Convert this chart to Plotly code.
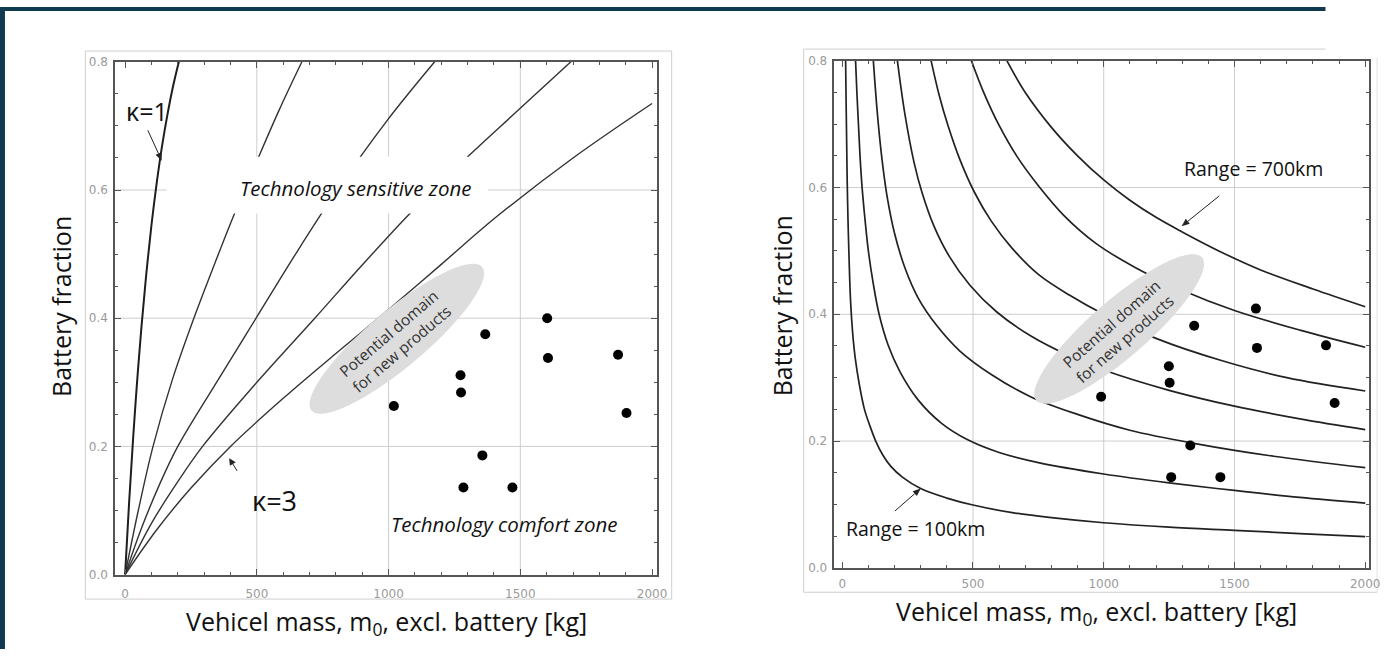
import numpy as np
import plotly.graph_objects as go

W, H = 1399, 656

# ---------------- Left chart data (kappa curves) ----------------
K1_X = [0, 15, 30, 45, 62, 80, 100, 120, 140, 160, 180, 204]
K1_Y = [0, 0.111, 0.21, 0.298, 0.386, 0.467, 0.545, 0.611, 0.668, 0.716, 0.758, 0.80]
K2_X = [0, 50, 106, 180, 261, 340, 415, 500, 585, 671]
K2_Y = [0, 0.10, 0.20, 0.305, 0.40, 0.485, 0.563, 0.645, 0.725, 0.80]
K3_X = [0, 60, 130, 200, 350, 500, 650, 800, 990, 1175]
K3_Y = [0, 0.07, 0.14, 0.20, 0.302, 0.402, 0.502, 0.597, 0.706, 0.80]
K4_X = [0, 100, 200, 294, 500, 720, 900, 1080, 1262, 1480, 1692]
K4_Y = [0, 0.08, 0.145, 0.20, 0.30, 0.40, 0.483, 0.563, 0.637, 0.72, 0.80]
K5_X = [0, 120, 250, 400, 600, 800, 990, 1200, 1406, 1700, 2000]
K5_Y = [0, 0.07, 0.135, 0.20, 0.275, 0.345, 0.41, 0.484, 0.557, 0.65, 0.735]

LEFT_DOTS_X = [1020, 1273, 1275, 1367, 1602, 1605, 1871, 1903, 1356, 1284, 1470]
LEFT_DOTS_Y = [0.263, 0.311, 0.284, 0.375, 0.400, 0.338, 0.343, 0.252, 0.186, 0.136, 0.136]

# ---------------- Right chart data (range curves) ----------------
R100_X = [13, 15, 17, 19, 22, 26, 32, 40, 50, 65, 85, 105, 128, 155, 186, 230, 300, 400, 500, 650, 800, 1000, 1250, 1500, 1750, 2000]
R100_Y = [0.80, 0.73, 0.67, 0.61, 0.55, 0.49, 0.42, 0.37, 0.33, 0.29, 0.25, 0.225, 0.20, 0.178, 0.16, 0.143, 0.125, 0.11,
          0.099, 0.087, 0.079, 0.071, 0.064, 0.059, 0.054, 0.049]
R200_X = [51, 56, 62, 68, 76, 87, 100, 118, 141, 175, 220, 290, 380, 480, 600, 750, 1000, 1250, 1500, 1750, 2000]
R200_Y = [0.80, 0.75, 0.70, 0.65, 0.60, 0.55, 0.50, 0.45, 0.40, 0.352, 0.31, 0.265, 0.228, 0.202, 0.182, 0.166, 0.148,
          0.134, 0.122, 0.111, 0.102]
R300_X = [119, 135, 152, 172, 200, 240, 290, 360, 450, 570, 720, 900, 1100, 1350, 1650, 2000]
R300_Y = [0.80, 0.714, 0.645, 0.585, 0.528, 0.473, 0.426, 0.383, 0.342, 0.305, 0.27, 0.242, 0.217, 0.196, 0.176, 0.158]
R400_X = [211, 240, 275, 306, 350, 410, 490, 590, 720, 870, 1000, 1250, 1500, 1750, 2000]
R400_Y = [0.80, 0.715, 0.639, 0.591, 0.540, 0.491, 0.445, 0.404, 0.366, 0.334, 0.312, 0.280, 0.255, 0.235, 0.218]
R500_X = [340, 370, 405, 450, 505, 570, 650, 750, 870, 1000, 1200, 1450, 1700, 2000]
R500_Y = [0.80, 0.747, 0.697, 0.644, 0.593, 0.547, 0.504, 0.463, 0.430, 0.400, 0.362, 0.327, 0.300, 0.279]
R600_X = [494, 540, 600, 670, 750, 850, 970, 1120, 1300, 1500, 1750, 2000]
R600_Y = [0.80, 0.751, 0.698, 0.648, 0.603, 0.555, 0.512, 0.474, 0.438, 0.406, 0.375, 0.348]
R700_X = [630, 700, 800, 900, 1000, 1100, 1200, 1300, 1450, 1600, 1800, 2000]
R700_Y = [0.80, 0.75, 0.695, 0.65, 0.612, 0.58, 0.553, 0.53, 0.498, 0.47, 0.44, 0.412]

RIGHT_DOTS_X = [990, 1249, 1252, 1346, 1582, 1586, 1850, 1883, 1331, 1258, 1446]
RIGHT_DOTS_Y = [0.270, 0.318, 0.292, 0.382, 0.409, 0.347, 0.351, 0.260, 0.193, 0.143, 0.143]

X_TICKS = [0, 500, 1000, 1500, 2000]
X_TICKTEXT = ["0", "500", "1000", "1500", "2000"]
Y_TICKS = [0.0, 0.2, 0.4, 0.6, 0.8]
Y_TICKTEXT = ["0.0", "0.2", "0.4", "0.6", "0.8"]
GRID_X = [500, 1000, 1500]
GRID_Y = [0.2, 0.4, 0.6]

FONT = "Open Sans"


def P(px, py):
    return px / W, 1 - py / H


fig = go.Figure()

left_curves = [(K2_X, K2_Y), (K3_X, K3_Y), (K4_X, K4_Y), (K5_X, K5_Y)]
for xs, ys in left_curves:
    fig.add_trace(go.Scatter(x=xs, y=ys, mode="lines", line=dict(color="#333", width=1.4, shape="spline", smoothing=1.0),
                             xaxis="x", yaxis="y", hoverinfo="skip"))
fig.add_trace(go.Scatter(x=K1_X, y=K1_Y, mode="lines", line=dict(color="#1e1e1e", width=2.0, shape="spline", smoothing=1.0),
                         xaxis="x", yaxis="y", hoverinfo="skip"))
fig.add_trace(go.Scatter(x=LEFT_DOTS_X, y=LEFT_DOTS_Y, mode="markers", marker=dict(color="black", size=10),
                         xaxis="x", yaxis="y"))

right_curves = [(R100_X, R100_Y), (R200_X, R200_Y), (R300_X, R300_Y), (R400_X, R400_Y),
                (R500_X, R500_Y), (R600_X, R600_Y), (R700_X, R700_Y)]
for xs, ys in right_curves:
    fig.add_trace(go.Scatter(x=xs, y=ys, mode="lines", line=dict(color="#222", width=1.7, shape="spline", smoothing=1.0),
                             xaxis="x2", yaxis="y2", hoverinfo="skip"))
fig.add_trace(go.Scatter(x=RIGHT_DOTS_X, y=RIGHT_DOTS_Y, mode="markers", marker=dict(color="black", size=10),
                         xaxis="x2", yaxis="y2"))


def axis_common(standoff):
    return dict(showline=True, linecolor="#555", linewidth=1.5, mirror="ticks", ticks="inside", ticklen=6,
                tickcolor="#555", tickwidth=1, showgrid=False, zeroline=False, ticklabelstandoff=standoff,
                tickfont=dict(family="DejaVu Sans", size=12, color="#9a9a9a"))


xa = axis_common(7)
xa.update(domain=[116 / W, 662 / W], range=[-38, 2018], anchor="y", tickmode="array", tickvals=X_TICKS,
          ticktext=X_TICKTEXT, minor=dict(ticks="inside", ticklen=3, tickcolor="#555", tickmode="linear", tick0=0, dtick=100))
ya = axis_common(3)
ya.update(domain=[1 - 580 / H, 1 - 56 / H], range=[0, 0.8], anchor="x", tickmode="array", tickvals=Y_TICKS,
          ticktext=Y_TICKTEXT, minor=dict(ticks="inside", ticklen=3, tickcolor="#555", tickmode="linear", tick0=0, dtick=0.05))
xa2 = axis_common(4)
xa2.update(domain=[841 / W, 1380 / W], range=[-30, 2015], anchor="y2", tickmode="array", tickvals=X_TICKS,
           ticktext=X_TICKTEXT, minor=dict(ticks="inside", ticklen=3, tickcolor="#555", tickmode="linear", tick0=0, dtick=100))
ya2 = axis_common(3)
ya2.update(domain=[1 - 573 / H, 1 - 55 / H], range=[0, 0.8], anchor="x2", tickmode="array", tickvals=Y_TICKS,
           ticktext=Y_TICKTEXT, minor=dict(ticks="inside", ticklen=3, tickcolor="#555", tickmode="linear", tick0=0, dtick=0.05))

shapes = []
# gridlines
for xr, yr in (("x", "y"), ("x2", "y2")):
    for g in GRID_X:
        shapes.append(dict(type="line", xref=xr, yref=yr + " domain", x0=g, x1=g, y0=0, y1=1,
                           line=dict(color="#cdcdcd", width=1), layer="below"))
    for g in GRID_Y:
        shapes.append(dict(type="line", xref=xr + " domain", yref=yr, x0=0, x1=1, y0=g, y1=g,
                           line=dict(color="#cdcdcd", width=1), layer="below"))


def pline(x0, y0, x1, y1, color, width, layer="below"):
    a = P(x0, y0)
    b = P(x1, y1)
    return dict(type="line", xref="paper", yref="paper", x0=a[0], y0=a[1], x1=b[0], y1=b[1],
                line=dict(color=color, width=width), layer=layer)


def prect(x0, y0, x1, y1, fill, line=None, layer="below"):
    a = P(x0, y0)
    b = P(x1, y1)
    return dict(type="rect", xref="paper", yref="paper", x0=a[0], y0=b[1], x1=b[0], y1=a[1],
                fillcolor=fill, line=dict(width=0) if line is None else line, layer=layer)


def ppath(points, fill):
    pts = [P(x, y) for x, y in points]
    path = "M " + " L ".join(f"{px:.5f},{py:.5f}" for px, py in pts) + " Z"
    return dict(type="path", xref="paper", yref="paper", path=path, fillcolor=fill,
                line=dict(width=0), layer="above")


def ellipse(cx, cy, a, b, ang_deg, fill):
    t = np.linspace(0, 2 * np.pi, 73)
    th = np.radians(ang_deg)
    xs = cx + a * np.cos(t) * np.cos(th) - b * np.sin(t) * np.sin(th)
    ys = cy + a * np.cos(t) * np.sin(th) + b * np.sin(t) * np.cos(th)
    return ppath(list(zip(xs, ys)), fill)


def arrow(hx, hy, tx, ty, head=8.0, half=3.2):
    d = np.hypot(hx - tx, hy - ty)
    ux, uy = (hx - tx) / d, (hy - ty) / d
    bx, by = hx - ux * head, hy - uy * head
    shapes.append(pline(tx, ty, bx, by, "#222", 1, layer="above"))
    shapes.append(ppath([(hx, hy), (bx - uy * half, by + ux * half), (bx + uy * half, by - ux * half)], "#222"))


# slide frame
shapes.append(prect(0, 0, 1336, 4, "#0f3a4f"))
shapes.append(prect(0, 0, 5, 656, "#0f3a4f"))
# left image frame
shapes.append(prect(86, 45, 677, 605, "rgba(0,0,0,0)", line=dict(color="#cfcfcf", width=1)))
# right image frame (partially cut)
shapes.append(pline(810, 43, 1336, 43, "#cfcfcf", 1))
shapes.append(pline(810, 43, 810, 598, "#cfcfcf", 1))
shapes.append(pline(810, 598, 1388, 598, "#cfcfcf", 1))
shapes.append(pline(1388, 52, 1388, 598, "#e0e0e0", 1))
# white box behind "Technology sensitive zone"
shapes.append(prect(168, 153, 492, 211, "white", layer="above"))
# ellipses
shapes.append(ellipse(400, 339, 113, 29, -40.5, "#dddddd"))
shapes.append(ellipse(1128, 329, 111, 29, -41.3, "#dddddd"))

# arrows
arrow(163, 157, 149, 126)
arrow(231, 461, 239, 474, head=7, half=3.5)
arrow(1191, 224, 1229, 193)
arrow(928, 492, 902, 515)

ann = []


def text(px, py, s, size, italic=False, angle=0, color="#111"):
    x, y = P(px, py)
    ann.append(dict(xref="paper", yref="paper", x=x, y=y, text=s, showarrow=False, xanchor="center",
                    yanchor="middle", textangle=angle,
                    font=dict(family=FONT, size=size, color=color, style="italic" if italic else "normal")))


# axis titles
text(62, 306, "Battery fraction", 25, angle=-90)
text(390, 629, "Vehicel mass, m<sub>0</sub>, excl. battery [kg]", 25)
text(789, 305, "Battery fraction", 25, angle=-90)
text(1105, 619, "Vehicel mass, m<sub>0</sub>, excl. battery [kg]", 25)

# left annotations
text(148, 106, "κ=1", 25)
text(277, 504, "κ=3", 27)
text(358, 185, "Technology sensitive zone", 20.5, italic=True)
text(509, 528, "Technology comfort zone", 20.5, italic=True)
text(398, 341, "Potential domain<br>for new products", 15.5, angle=-40.5, color="#333")

# right annotations
text(1263, 165, "Range = 700km", 19.5)
text(923, 533, "Range = 100km", 19.5)
text(1127, 331, "Potential domain<br>for new products", 15.5, angle=-41.3, color="#333")

fig.update_layout(width=W, height=H, margin=dict(l=0, r=0, t=0, b=0), paper_bgcolor="white",
                  plot_bgcolor="white", showlegend=False, xaxis=xa, yaxis=ya, xaxis2=xa2, yaxis2=ya2,
                  shapes=shapes, annotations=ann)

fig.write_html("out.html", config={"displayModeBar": False})
